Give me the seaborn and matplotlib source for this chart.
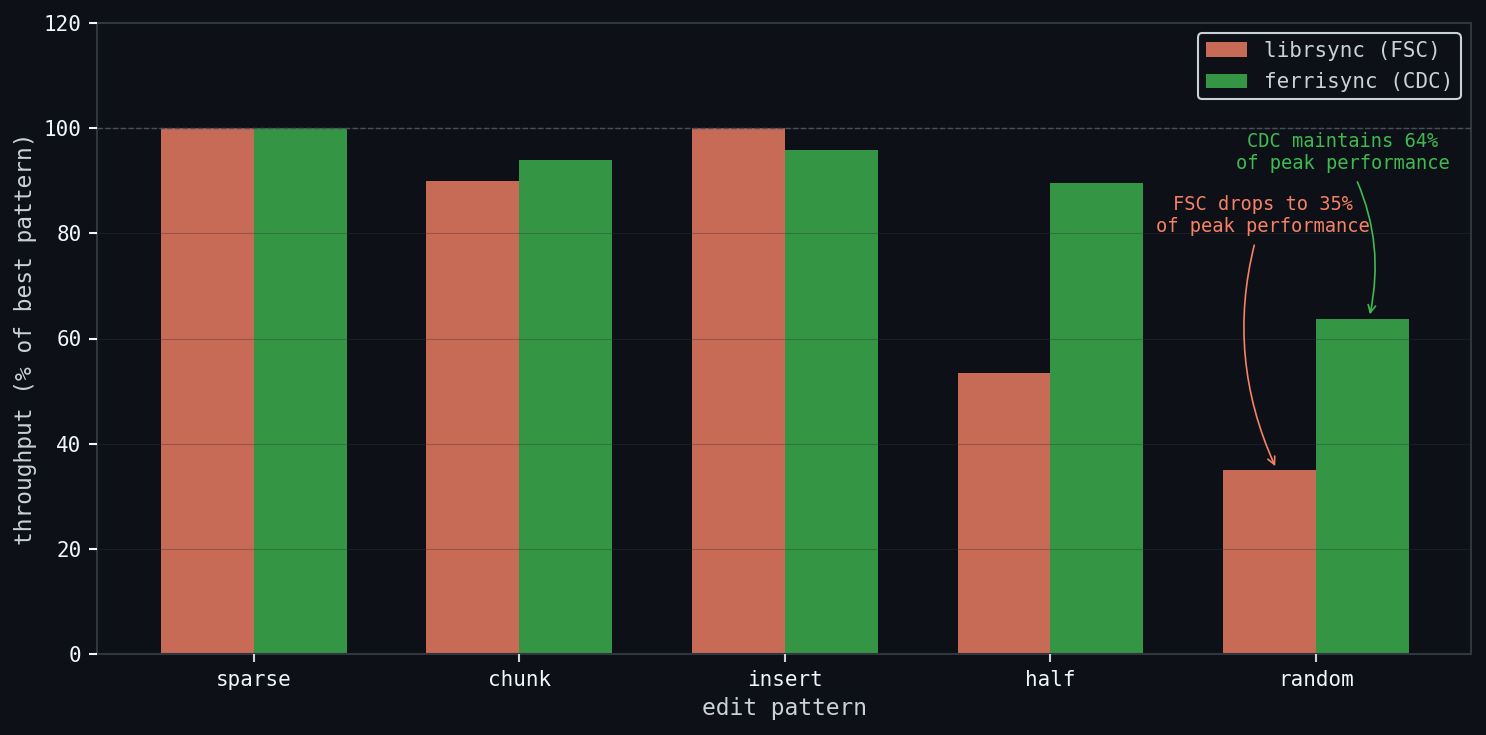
import matplotlib
matplotlib.use("Agg")
import matplotlib.pyplot as plt
import seaborn as sns
import pandas as pd

patterns = ["sparse", "chunk", "insert", "half", "random"]
fsc_values = [100.0, 90.0, 100.0, 53.4, 35.0]
cdc_values = [100.0, 94.0, 95.9, 89.6, 63.7]
series_names = ["librsync (FSC)", "ferrisync (CDC)"]
y_ticks = [0, 20, 40, 60, 80, 100, 120]

BG = "#0d1117"
FSC_C = "#f78166"
CDC_C = "#3fb950"
GRID = "#30363d"
LABEL = "#c9d1d9"
TICK = "#f0f6fc"

df = pd.DataFrame({
    "pattern": patterns * 2,
    "throughput": fsc_values + cdc_values,
    "impl": [series_names[0]] * len(patterns) + [series_names[1]] * len(patterns),
})

sns.set_theme(style="dark")
plt.rcParams["font.family"] = ["DejaVu Sans Mono", "DejaVu Sans"]

fig = plt.figure(figsize=(1486 / 150, 735 / 150), dpi=150, facecolor=BG)
ax = fig.add_axes([97 / 1486, 1 - 654 / 735, (1471 - 97) / 1486, (654 - 23) / 735])
ax.set_facecolor(BG)

sns.barplot(data=df, x="pattern", y="throughput", hue="impl",
            palette=[FSC_C, CDC_C], alpha=0.8, width=0.7, gap=0,
            saturation=1, linewidth=0, ax=ax, errorbar=None)

ax.set_xlim(-0.591, 4.584)
ax.set_ylim(0, 120)
ax.set_yticks(y_ticks)

ax.set_axisbelow(False)
ax.grid(axis="y", color=GRID, alpha=0.35, linewidth=0.5)
ax.grid(axis="x", visible=False)
ax.axhline(100, color="#484f58", linestyle="--", linewidth=0.7, zorder=3)

for s in ax.spines.values():
    s.set_visible(True)
    s.set_color(GRID)
    s.set_linewidth(1.0)

ax.tick_params(axis="both", colors=TICK, labelsize=10, length=4, width=1,
               left=True, bottom=True)
ax.tick_params(axis="x", color=LABEL)
ax.set_xlabel("edit pattern", color=LABEL, fontsize=11, labelpad=3.6)
ax.set_ylabel("throughput (% of best pattern)", color=LABEL, fontsize=11, labelpad=3)

leg = ax.legend(loc="upper right", fontsize=10, facecolor=BG, edgecolor=LABEL,
                framealpha=1, labelcolor=LABEL, borderpad=0.35, labelspacing=0.55,
                handlelength=2.0)
leg.get_frame().set_linewidth(1.0)

ax.annotate("FSC drops to 35%\nof peak performance", xy=(3.853, 35.0), xytext=(3.8, 83.3),
            ha="center", va="center", color=FSC_C, fontsize=9,
            arrowprops=dict(arrowstyle="->", color=FSC_C, lw=0.8,
                            connectionstyle="arc3,rad=0.2"))
ax.annotate("CDC maintains 64%\nof peak performance", xy=(4.2, 63.8), xytext=(4.1, 95.3),
            ha="center", va="center", color=CDC_C, fontsize=9,
            arrowprops=dict(arrowstyle="->", color=CDC_C, lw=0.8,
                            connectionstyle="arc3,rad=-0.2"))

fig.savefig("out.png", dpi=150, facecolor=BG)
